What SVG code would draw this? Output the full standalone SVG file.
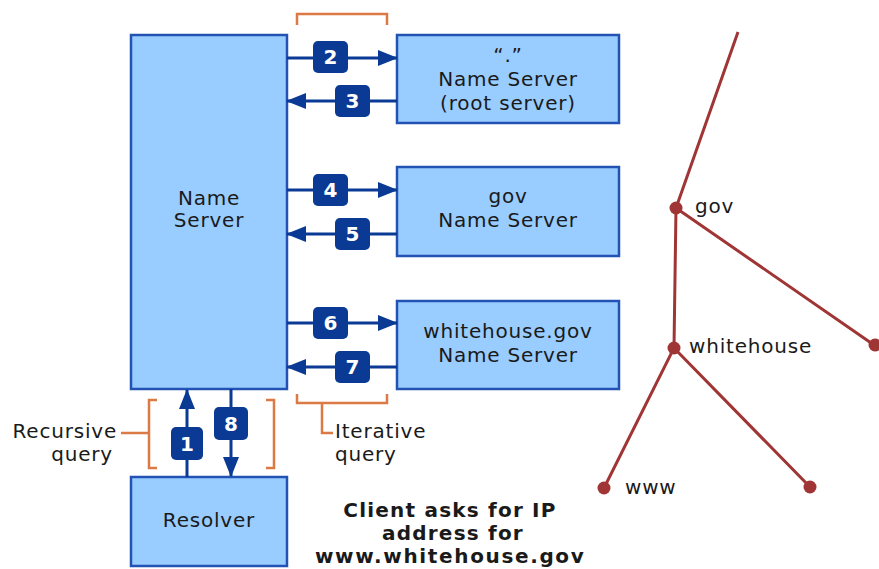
<svg xmlns="http://www.w3.org/2000/svg" width="879" height="569" viewBox="0 0 879 569">
<style>
.box{fill:#99ccff;stroke:#2253b4;stroke-width:2.5}
.t{font-family:"DejaVu Sans","Liberation Sans",sans-serif;font-size:20px;fill:#1a1a1a;letter-spacing:0.8px}
.c{text-anchor:middle}
.b{font-weight:bold;letter-spacing:1.2px}
.arr{stroke:#0a3a94;stroke-width:3;fill:none}
.badge{fill:#0a3a94}
.num{font-family:"DejaVu Sans","Liberation Sans",sans-serif;font-size:20px;font-weight:bold;fill:#ffffff;text-anchor:middle}
.br{stroke:#dc7a45;stroke-width:2.5;fill:none}
.tree{stroke:#a03535;stroke-width:3;fill:none}
.dot{fill:#a03535}
</style>
<defs>
<marker id="ah" markerUnits="userSpaceOnUse" markerWidth="20" markerHeight="16" viewBox="0 0 20 16" refX="19" refY="8" orient="auto">
<path d="M0,0 L20,8 L0,16 z" fill="#0a3a94"/>
</marker>
</defs>

<g id="nameserver">
<rect class="box" x="131" y="35" width="156" height="354"/>
<text class="t c" x="209" y="205">Name</text>
<text class="t c" x="209" y="227">Server</text>
</g>

<g id="resolver">
<rect class="box" x="131" y="477" width="156" height="89"/>
<text class="t c" x="209" y="527">Resolver</text>
</g>

<g id="root">
<rect class="box" x="397" y="35" width="222" height="88"/>
<text class="t c" x="508" y="62">“.”</text>
<text class="t c" x="508" y="86">Name Server</text>
<text class="t c" x="508" y="110">(root server)</text>
</g>

<g id="gov">
<rect class="box" x="397" y="167" width="222" height="89"/>
<text class="t c" x="508" y="203">gov</text>
<text class="t c" x="508" y="227">Name Server</text>
</g>

<g id="whitehouse">
<rect class="box" x="397" y="301" width="222" height="88"/>
<text class="t c" x="508" y="338">whitehouse.gov</text>
<text class="t c" x="508" y="362">Name Server</text>
</g>

<g id="connectors">
<line class="arr" x1="287" y1="58" x2="397" y2="58" marker-end="url(#ah)"/>
<line class="arr" x1="397" y1="101" x2="287" y2="101" marker-end="url(#ah)"/>
<line class="arr" x1="287" y1="190" x2="397" y2="190" marker-end="url(#ah)"/>
<line class="arr" x1="397" y1="234" x2="287" y2="234" marker-end="url(#ah)"/>
<line class="arr" x1="287" y1="323" x2="397" y2="323" marker-end="url(#ah)"/>
<line class="arr" x1="397" y1="367" x2="287" y2="367" marker-end="url(#ah)"/>
<line class="arr" x1="187" y1="477" x2="187" y2="390" marker-end="url(#ah)"/>
<line class="arr" x1="231" y1="389" x2="231" y2="476" marker-end="url(#ah)"/>
</g>

<g id="badges">
<rect class="badge" x="313" y="41" width="35" height="32" rx="5"/><text class="num" x="330.5" y="64">2</text>
<rect class="badge" x="335" y="85" width="35" height="32" rx="5"/><text class="num" x="352.5" y="108">3</text>
<rect class="badge" x="313" y="174" width="35" height="32" rx="5"/><text class="num" x="330.5" y="197">4</text>
<rect class="badge" x="335" y="218" width="35" height="32" rx="5"/><text class="num" x="352.5" y="241">5</text>
<rect class="badge" x="313" y="307" width="35" height="32" rx="5"/><text class="num" x="330.5" y="330">6</text>
<rect class="badge" x="335" y="351" width="35" height="32" rx="5"/><text class="num" x="352.5" y="374">7</text>
<rect class="badge" x="171" y="427" width="32" height="33" rx="5"/><text class="num" x="187" y="451">1</text>
<rect class="badge" x="214" y="407" width="34" height="33" rx="5"/><text class="num" x="231" y="431">8</text>
</g>

<g id="brackets">
<path class="br" d="M297,25 V14 H387 V25"/>
<path class="br" d="M297,394 V403 H387 V394 M322,403 V433 H333"/>
<path class="br" d="M157,400 H149 V468 H157 M266,400 H274 V468 H266 M121,433 H149"/>
<text class="t" x="335" y="438">Iterative</text>
<text class="t" x="335" y="461">query</text>
<text class="t" x="117" y="438" text-anchor="end">Recursive</text>
<text class="t" x="113" y="461" text-anchor="end">query</text>
</g>

<g id="caption">
<text class="t c b" x="450" y="517">Client asks for IP</text>
<text class="t c b" x="453" y="540">address for</text>
<text class="t c b" x="450" y="563" textLength="270" lengthAdjust="spacing">www.whitehouse.gov</text>
</g>

<g id="tree">
<path class="tree" d="M738,32 L676,208 L674,348 L604,488 M674,348 L810,487 M676,208 L874,345"/>
<circle class="dot" cx="676" cy="208" r="6.5"/>
<circle class="dot" cx="674" cy="348" r="6.5"/>
<circle class="dot" cx="604" cy="488" r="6.5"/>
<circle class="dot" cx="810" cy="487" r="6.5"/>
<circle class="dot" cx="875" cy="345" r="6.5"/>
<text class="t" x="695" y="213">gov</text>
<text class="t" x="689" y="353">whitehouse</text>
<text class="t" x="625" y="494">www</text>
</g>
</svg>
